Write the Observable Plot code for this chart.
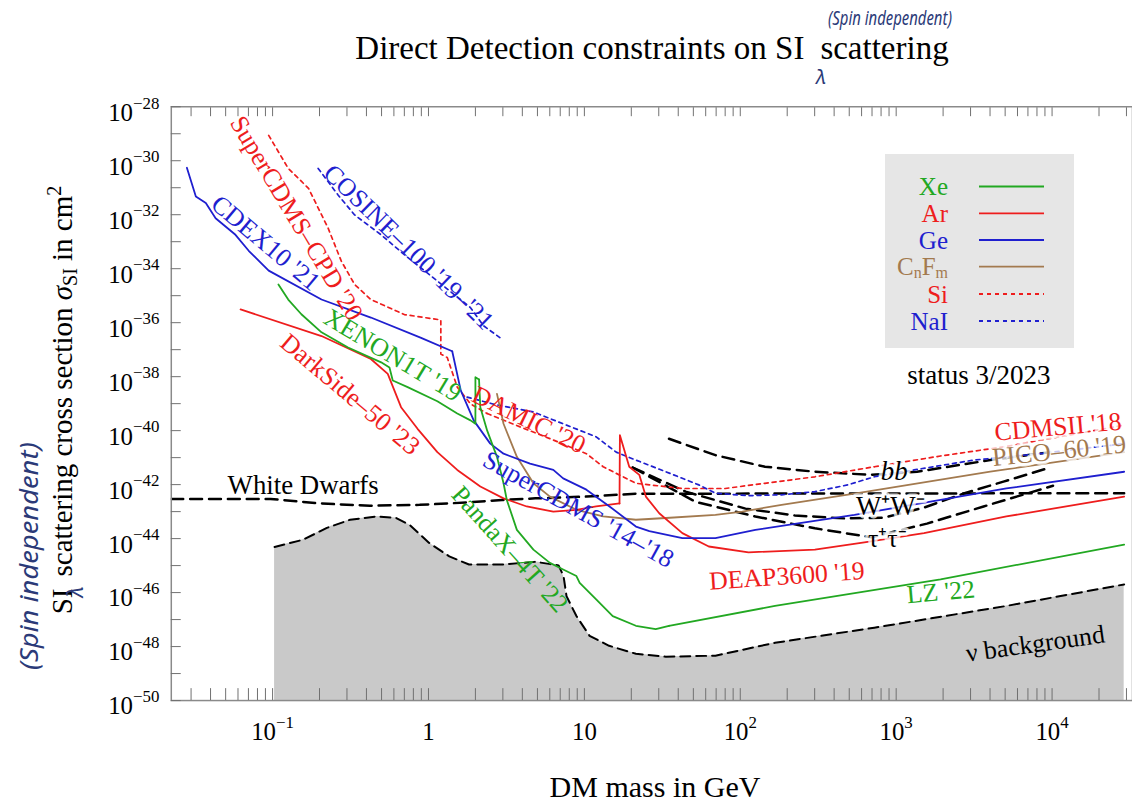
<!DOCTYPE html>
<html><head><meta charset="utf-8">
<script src="https://cdn.jsdelivr.net/npm/d3@7"></script>
<script src="https://cdn.jsdelivr.net/npm/@observablehq/plot@0.6"></script>
<style>
html,body{margin:0;padding:0;background:#fff;overflow:hidden;width:1132px;height:806px;}
#wrap{position:relative;width:1132px;height:806px;overflow:hidden;}
#wrap svg{position:absolute;left:0;top:0;}
</style></head>
<body><div id="wrap"></div>
<script>
// ---------------- DATA: [DM mass in GeV, sigma_SI in cm^2] ----------------
const cdex10 = [[0.0282,5.5e-31],[0.0322,4.7e-32],[0.0373,2.7e-32],[0.0431,7.4e-33],[0.0578,1.8e-33],[0.0703,4.6e-34],[0.0944,8.5e-35],[0.206,7.2e-36],[0.427,1.55e-36],[0.889,2.8e-37],[1.42,8.7e-38]];
const superCDMS = [[1.42,8.7e-38],[1.61,3.1e-39],[1.95,2.4e-40],[2.49,3.3e-41],[3.03,1.4e-41],[4.48,6.0e-42],[6.32,3.5e-42],[7.31,1.7e-42],[10.3,6.5e-43],[14.5,1.55e-43],[21.4,2.8e-44],[26.1,1.9e-44],[42.5,1.05e-44],[69.3,1.05e-44],[125,2.1e-44],[235,3.7e-44],[540,7.6e-44],[1926,2.7e-43],[5093,7.2e-43],[29000,3.0e-42]];
const xenon1t = [[0.109,2.6e-35],[0.126,7.2e-36],[0.153,2.05e-36],[0.206,4.4e-37],[0.305,1.2e-37],[0.497,3.4e-38],[0.562,2.2e-38],[0.590,7.2e-39],[0.735,4.1e-39],[1.14,1.23e-39],[1.53,4.3e-40],[1.86,2.4e-40],[2.00,1.8e-40],[2.00,9.5e-39],[2.11,7.9e-39]];
const pandax4t = [[2.11,7.9e-39],[2.15,7.4e-40],[2.38,1.0e-40],[2.75,1.07e-41],[3.03,1.12e-42],[3.18,2.7e-43],[3.69,2.1e-44],[4.71,3.9e-45],[6.01,1.26e-45],[7.31,7.2e-46],[8.89,4.1e-46],[9.33,2.3e-46],[11.9,5.6e-47],[15.2,1.35e-47],[21.4,5.9e-48],[28.7,4.4e-48],[34.9,5.9e-48]];
const lz22 = [[34.9,5.9e-48],[167,3.2e-47],[1926,3.1e-46],[29000,6.0e-45]];
const darkside50 = [[0.0623,3.1e-36],[0.206,3.2e-37],[0.427,4.5e-38],[0.548,1.26e-38],[0.667,7.4e-40],[0.851,1.17e-40],[1.14,1.6e-41],[1.53,3.5e-42],[2.15,8.5e-43],[3.03,3.1e-43],[4.27,1.55e-43],[6.32,1.0e-43],[8.89,1.17e-43],[11.9,1.55e-43],[16.8,2.0e-43]];
const deap3600 = [[16.8,2.0e-43],[16.9,6.8e-41],[19.4,4.6e-42],[22.5,2.3e-42],[24.8,3.6e-43],[30.2,8.7e-44],[42.5,1.6e-44],[62.8,5.1e-45],[113,3.1e-45],[301,3.9e-45],[625,7.2e-45],[1508,1.6e-44],[5093,6.6e-44],[29000,3.6e-43]];
const superCDMScpd = [[0.0944,8.7e-30],[0.126,5.2e-31],[0.170,9.5e-32],[0.227,3.2e-33],[0.276,1.9e-34],[0.336,2.6e-35],[0.427,7.2e-36],[0.700,2.0e-36],[1.20,1.26e-36],[1.20,6.9e-38],[1.32,5.1e-38],[1.53,4.1e-39],[1.86,9.8e-40],[2.38,4.3e-40]];
const damic20 = [[2.38,4.3e-40],[3.87,1.38e-40],[6.32,4.5e-41],[10.3,1.4e-41],[13.2,4.6e-42],[21.4,1.12e-42],[26.1,9.8e-43],[42.5,7.2e-43],[80.2,7.2e-43],[144,1.12e-42],[301,1.95e-42],[724,4.6e-42]];
const cdmsII18 = [[724,4.6e-42],[1926,1.15e-41],[5093,2.6e-41],[29000,1.6e-40]];
const cosine100 = [[0.196,5.2e-31],[0.263,5.4e-32],[0.336,9.8e-33],[0.497,1.8e-33],[0.700,3.3e-34],[1.14,3.5e-35],[1.86,3.6e-36],[2.26,7.6e-37],[2.87,2.8e-37]];
const naiHighMass = [[1.77,1.74e-39],[2.75,8.9e-40],[4.71,4.9e-40],[7.68,1.6e-40],[11.9,5.9e-41],[16.0,1.6e-41],[21.4,8.1e-42],[33.3,3.0e-42],[54.2,9.8e-43],[69.3,4.8e-43],[113,3.9e-43],[184,4.2e-43],[301,5.5e-43],[490,9.8e-43],[724,1.95e-42],[1302,3.5e-42],[3140,8.1e-42],[8356,1.4e-41],[29000,3.3e-41]];
const pico60 = [[2.75,2.3e-39],[3.03,1.8e-40],[3.69,1.07e-41],[4.71,1.12e-42],[6.01,3.6e-43],[8.89,1.17e-43],[13.2,6.6e-44],[21.4,5.0e-44],[33.3,5.8e-44],[69.3,7.6e-44],[103,1.0e-43],[184,1.78e-43],[540,4.6e-43],[4012,3.0e-42],[29000,1.6e-41]];
const whiteDwarfs = [[0.0224,2.95e-43],[0.097,2.95e-43],[0.202,2.0e-43],[0.421,1.66e-43],[0.877,1.78e-43],[1.82,2.2e-43],[2.96,2.7e-43],[4.85,3.1e-43],[10.3,3.6e-43],[21.4,4.6e-43],[29000,4.8e-43]];
const bbChannel = [[34.9,5.0e-41],[69.3,1.23e-41],[144,4.6e-42],[301,3.0e-42],[690,2.3e-42],[1360,3.0e-42],[4012,8.1e-42],[9710,1.6e-41]];
const wwChannel = [[20.4,4.3e-42],[44.6,5.5e-43],[108,1.29e-43],[224,7.2e-44],[467,5.6e-44],[839,6.0e-44],[1508,1.41e-43],[2713,4.7e-43],[4874,1.29e-42],[9710,4.3e-42]];
const tautauChannel = [[20.4,4.3e-42],[51.7,2.3e-43],[125,6.6e-44],[301,2.4e-44],[693,1.12e-44],[1575,3.6e-44],[3636,1.55e-43],[10140,9.1e-43]];
const neutrinoFloor = [[0.103,4.9e-45],[0.157,9.1e-45],[0.223,2.5e-44],[0.314,5.0e-44],[0.465,6.6e-44],[0.622,5.8e-44],[0.757,3.2e-44],[1.01,6.9e-45],[1.36,2.2e-45],[1.82,1.1e-45],[2.96,1.1e-45],[4.85,1.38e-45],[6.83,1.02e-45],[7.35,4.1e-46],[7.68,7.4e-47],[8.89,1.35e-47],[10.8,2.5e-48],[14.4,1.07e-48],[21.4,5.4e-49],[33.3,4.2e-49],[69.3,4.6e-49],[167,1.38e-48],[724,5.0e-48],[5093,3.2e-47],[29000,2.0e-46]];

// curve labels: [text, mass, sigma]
const curveLabels = [
  ["SuperCDMS–CPD '20", 0.142, 7.4e-33],
  ["COSINE–100 '19–'21", 0.746, 6.3e-34],
  ["CDEX10 '21", 0.0902, 8.9e-34],
  ["XENON1T '19", 0.59, 6.2e-38],
  ["DarkSide–50 '23", 0.314, 2.2e-39],
  ["DAMIC '20", 4.4, 2.5e-40],
  ["SuperCDMS '14–'18", 9.16, 1.2e-43],
  ["PandaX–4T '22", 3.33, 4.0e-45],
  ["DEAP3600 '19", 199, 4.1e-46],
  ["LZ '22", 1935, 1.05e-46],
  ["ν background", 7800, 1.26e-48],
  ["CDMSII '18", 10900, 1.38e-40],
  ["PICO–60 '19", 11100, 1.78e-41],
  ["bb", 971, 3.2e-42],
  ["W⁺W⁻", 916, 1.55e-43],
  ["τ⁺τ⁻", 877, 1.02e-44],
  ["White Dwarfs", 0.157, 9.1e-43]
];

// axes
const yMajorTicks = [1e-28,1e-30,1e-32,1e-34,1e-36,1e-38,1e-40,1e-42,1e-44,1e-46,1e-48,1e-50];
const yMinorTicks = [1e-29,1e-31,1e-33,1e-35,1e-37,1e-39,1e-41,1e-43,1e-45,1e-47,1e-49];
const xMajorTicks = [0.1,1,10,100,1000,10000];
const xMinorTicks = [0.03,0.04,0.05,0.06,0.07,0.08,0.09,0.2,0.3,0.4,0.5,0.6,0.7,0.8,0.9,2,3,4,5,6,7,8,9,20,30,40,50,60,70,80,90,200,300,400,500,600,700,800,900,2000,3000,4000,5000,6000,7000,8000,9000,20000,30000];

// legend
const legendLabels = ["Xe","Ar","Ge","CnFm","Si","NaI"];

// ---------------- DRAWING ----------------
const RED="#ee1d1d", GREEN="#22a822", BLUE="#1f1fcf", BROWN="#a37a4f", INK="#2b3a78";
const legendColors = [GREEN, RED, BLUE, BROWN, RED, BLUE];
const legendDashed = [false,false,false,false,true,true];

const X = d => d[0], Y = d => d[1];
const solid = (data, color) => Plot.line(data, {x: X, y: Y, stroke: color, strokeWidth: 1.8, clip: true});
const dotted = (data, color) => Plot.line(data, {x: X, y: Y, stroke: color, strokeWidth: 1.7, strokeDasharray: "4,4", clip: true});
const bdash = (data) => Plot.line(data, {x: X, y: Y, stroke: "#000", strokeWidth: 2.5, strokeDasharray: "12,7", clip: true});

const labelStyle = {
  "SuperCDMS–CPD '20": {c: RED, r: 59},
  "COSINE–100 '19–'21": {c: BLUE, r: 44},
  "CDEX10 '21": {c: BLUE, r: 40},
  "XENON1T '19": {c: GREEN, r: 31},
  "DarkSide–50 '23": {c: RED, r: 40},
  "DAMIC '20": {c: RED, r: 26},
  "SuperCDMS '14–'18": {c: BLUE, r: 29},
  "PandaX–4T '22": {c: GREEN, r: 48},
  "DEAP3600 '19": {c: RED, r: -4},
  "LZ '22": {c: GREEN, r: -5},
  "ν background": {c: "#000", r: -8},
  "CDMSII '18": {c: RED, r: -5, halo: true},
  "PICO–60 '19": {c: BROWN, r: -6, halo: true},
  "bb": {c: "#000", r: 0, halo: true, italic: true, size: 27},
  "W⁺W⁻": {c: "#000", r: 0, halo: true, size: 27},
  "τ⁺τ⁻": {c: "#000", r: 0, halo: true},
  "White Dwarfs": {c: "#000", r: 0, size: 27}
};

const labelMarks = curveLabels.map(d => {
  const s = labelStyle[d[0]];
  const o = {x: d => d[1], y: d => d[2], text: d => d[0], fill: s.c, rotate: s.r, fontSize: s.size || 26};
  if (s.italic) o.fontStyle = "italic";
  if (s.halo) { o.stroke = "white"; o.strokeOpacity = 0.75; o.strokeWidth = 7; o.paintOrder = "stroke"; }
  return Plot.text([d], o);
});

const supFmt = v => {
  const e = Math.round(Math.log10(v));
  if (e === 0) return "1";
  if (e === 1) return "10";
  return "10^" + e;
};

const chart = Plot.plot({
  width: 1140, height: 806,
  marginLeft: 172, marginRight: 0, marginTop: 107, marginBottom: 101,
  x: {type: "log", domain: [0.0224, 32800]},
  y: {type: "log", domain: [1e-50, 1e-28]},
  style: {fontFamily: "'Liberation Serif', serif", fontSize: "25px", color: "#000", background: "transparent"},
  marks: [
    Plot.areaY(neutrinoFloor, {x: X, y1: 1e-50, y2: Y, fill: "#c9c9c9", clip: true}),
    Plot.line(neutrinoFloor, {x: X, y: Y, stroke: "#000", strokeWidth: 2, strokeDasharray: "10,6", clip: true}),
    bdash(whiteDwarfs),
    bdash(bbChannel),
    bdash(wwChannel),
    bdash(tautauChannel),
    dotted(superCDMScpd, RED),
    dotted(damic20, RED),
    dotted(cdmsII18, RED),
    dotted(cosine100, BLUE),
    dotted(naiHighMass, BLUE),
    solid(pico60, BROWN),
    solid(darkside50, RED),
    solid(deap3600, RED),
    solid(cdex10, BLUE),
    solid(superCDMS, BLUE),
    solid(xenon1t, GREEN),
    solid(pandax4t, GREEN),
    solid(lz22, GREEN),
    ...labelMarks,
    Plot.frame({stroke: "#8a8a8a", strokeWidth: 1.5}),
    Plot.axisY([...yMajorTicks, ...yMinorTicks], {tickSize: -10, stroke: "#707070", tickFormat: () => "", label: null}),
    Plot.axisY(yMajorTicks, {tickSize: 0, tickPadding: 12, dy: 6, fontSize: 25, tickFormat: supFmt, label: null}),
    Plot.axisX([...xMajorTicks, ...xMinorTicks], {anchor: "bottom", tickSize: -12, stroke: "#707070", tickFormat: () => "", label: null}),
    Plot.axisX([...xMajorTicks, ...xMinorTicks], {anchor: "top", tickSize: -9, stroke: "#707070", tickFormat: () => "", label: null}),
    Plot.axisX(xMajorTicks, {anchor: "bottom", tickSize: 0, tickPadding: 22, fontSize: 25, tickFormat: supFmt, label: null})
  ]
});
document.getElementById("wrap").appendChild(chart);

// superscripts in tick labels
d3.select(chart).selectAll('g[aria-label="y-axis tick label"] text, g[aria-label="x-axis tick label"] text').each(function() {
  const m = (this.textContent || "").match(/^10\^(-?\d+)$/);
  if (m) {
    this.textContent = "10";
    d3.select(this).append("tspan").attr("font-size", "17px").attr("dy", "-0.72em").text(m[1].replace("-", "\u2212"));
  }
});

// ---------------- overlay: titles, axis labels, legend, notes ----------------
const ov = d3.select("#wrap").append("svg").attr("width", 1132).attr("height", 806)
  .attr("font-family", "'Liberation Serif', serif").style("pointer-events", "none");

const title = ov.append("text").attr("x", 652).attr("y", 59).attr("text-anchor", "middle").attr("font-size", 33);
title.append("tspan").text("Direct Detection constraints on SI");
title.append("tspan").attr("dx", 16).text("scattering");

ov.append("text").attr("x", 655).attr("y", 797).attr("text-anchor", "middle").attr("font-size", 30).text("DM mass in GeV");

const yl = ov.append("text").attr("transform", "translate(72,400) rotate(-90)").attr("text-anchor", "middle").attr("font-size", 29);
yl.append("tspan").text("SI");
yl.append("tspan").attr("dx", 12).text("scattering cross section ");
yl.append("tspan").attr("font-style", "italic").text("σ");
yl.append("tspan").attr("font-size", 20).attr("dy", 5).text("SI");
yl.append("tspan").attr("dy", -5).text(" in cm");
yl.append("tspan").attr("font-size", 20).attr("dy", -11).text("2");

// handwritten notes
const hand = "'Noto Sans', sans-serif";
ov.append("text").attr("x", 890).attr("y", 25).attr("text-anchor", "middle").attr("font-family", hand)
  .attr("font-style", "italic").attr("font-size", 20).attr("fill", INK)
  .attr("textLength", 124).attr("lengthAdjust", "spacingAndGlyphs").text("(Spin independent)");
ov.append("text").attr("x", 821).attr("y", 84).attr("text-anchor", "middle").attr("font-family", hand)
  .attr("font-style", "italic").attr("font-size", 20).attr("fill", INK).text("λ");
ov.append("text").attr("transform", "translate(38,556) rotate(-90)").attr("text-anchor", "middle").attr("font-family", hand)
  .attr("font-style", "italic").attr("font-size", 25).attr("fill", INK)
  .attr("textLength", 228).attr("lengthAdjust", "spacingAndGlyphs").text("(Spin independent)");
ov.append("text").attr("transform", "translate(83,592) rotate(-90)").attr("text-anchor", "middle").attr("font-family", hand)
  .attr("font-style", "italic").attr("font-size", 22).attr("fill", INK).text("λ");

// legend
ov.append("rect").attr("x", 885).attr("y", 154).attr("width", 189).attr("height", 194).attr("fill", "#e6e6e6");
const rowY = [186.5, 213.3, 240, 266.7, 294, 321];
legendLabels.forEach((lab, i) => {
  const t = ov.append("text").attr("x", 948).attr("y", rowY[i] + 8.5).attr("text-anchor", "end").attr("font-size", 25).attr("fill", legendColors[i]);
  if (lab === "CnFm") {
    t.append("tspan").text("C");
    t.append("tspan").attr("font-size", 16).attr("dy", 3).text("n");
    t.append("tspan").attr("dy", -3).text("F");
    t.append("tspan").attr("font-size", 16).attr("dy", 3).text("m");
  } else t.text(lab);
  ov.append("line").attr("x1", 979).attr("x2", 1044).attr("y1", rowY[i]).attr("y2", rowY[i])
    .attr("stroke", legendColors[i]).attr("stroke-width", 1.8)
    .attr("stroke-dasharray", legendDashed[i] ? "4,4" : null);
});
ov.append("text").attr("x", 979).attr("y", 384).attr("text-anchor", "middle").attr("font-size", 27).text("status 3/2023");
</script>
</body></html>
